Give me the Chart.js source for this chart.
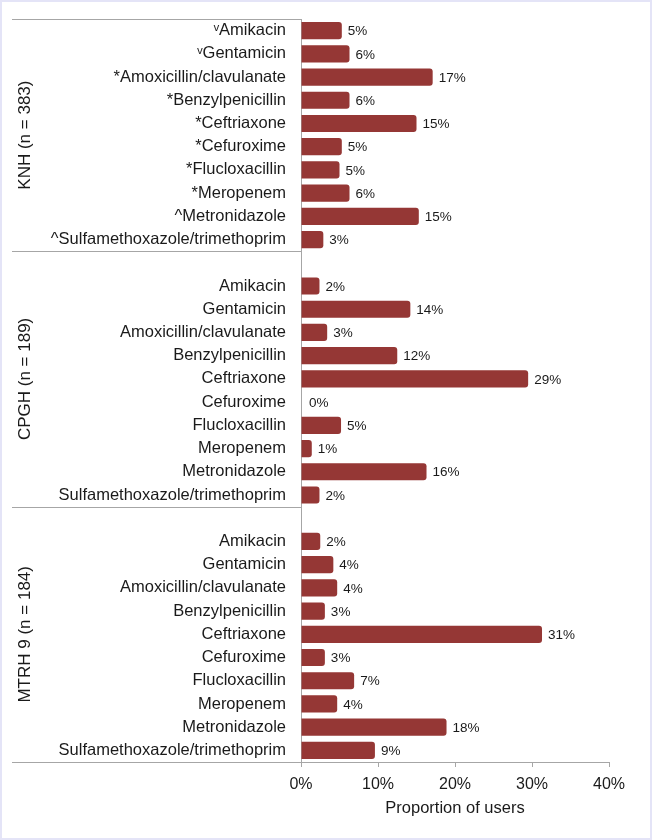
<!DOCTYPE html>
<html>
<head>
<meta charset="utf-8">
<script src="https://cdn.jsdelivr.net/npm/chart.js@4/dist/chart.umd.min.js"></script>
<style>
    html, body { margin: 0; padding: 0; background: #fff; }
    .wrap {
        position: relative;
        width: 652px;
        height: 840px;
        background: #fff;
        box-shadow: inset 0 0 0 2px #e4e4f7;
    }
    canvas { position: absolute; left: 0; top: 0; }
</style>
</head>
<body>
<div class="wrap"><canvas id="usersChart" width="652" height="840"></canvas></div>
<script>
// groups (hospital, n)
const groups = ['KNH (n = 383)', 'CPGH (n = 189)', 'MTRH 9 (n = 184)'];

const drugs = [
    'Amikacin',
    'Gentamicin',
    'Amoxicillin/clavulanate',
    'Benzylpenicillin',
    'Ceftriaxone',
    'Cefuroxime',
    'Flucloxacillin',
    'Meropenem',
    'Metronidazole',
    'Sulfamethoxazole/trimethoprim',
];
// KNH labels carry significance marks
const knhMarks = ['ᵛ', 'ᵛ', '*', '*', '*', '*', '*', '*', '^', '^'];

// bar lengths (% of users)
const knhValues = [5.3, 6.3, 17.1, 6.3, 15.0, 5.3, 5.0, 6.3, 15.3, 2.9];
const cpghValues = [2.4, 14.2, 3.4, 12.5, 29.5, 0, 5.2, 1.4, 16.3, 2.4];
const mtrhValues = [2.5, 4.2, 4.7, 3.1, 31.3, 3.1, 6.9, 4.7, 18.9, 9.6];

// percentages as printed next to the bars
const knhPct = [5, 6, 17, 6, 15, 5, 5, 6, 15, 3];
const cpghPct = [2, 14, 3, 12, 29, 0, 5, 1, 16, 2];
const mtrhPct = [2, 4, 4, 3, 31, 3, 7, 4, 18, 9];

const xTicks = [0, 10, 20, 30, 40];

const FONT = "'Liberation Sans', Arial, Helvetica, sans-serif";
const TEXT = '#1a1a1a';
const LINE = '#a6a6a6';

// one empty slot before the 2nd and 3rd group
const labels = [
    ...drugs.map((d, i) => knhMarks[i] + d),
    '', ...drugs,
    '', ...drugs,
];
const values = [...knhValues, null, ...cpghValues, null, ...mtrhValues];
const printed = [...knhPct, null, ...cpghPct, null, ...mtrhPct];
// slot index where each group starts and ends
const groupRanges = [[0, 9], [10, 20], [21, 31]];

const groupPlugin = {
    id: 'groupPlugin',
    afterDraw(chart) {
        const ctx = chart.ctx;
        const y = chart.scales.y;
        const half = (y.getPixelForValue(1) - y.getPixelForValue(0)) / 2;
        const left = 12;
        const axisX = chart.chartArea.left;

        ctx.save();
        ctx.strokeStyle = LINE;
        ctx.lineWidth = 1;
        const edges = [0, 10, 21];
        edges.forEach(i => {
            const py = Math.round(y.getPixelForValue(i) - half) + 0.5;
            ctx.beginPath();
            ctx.moveTo(left, py);
            ctx.lineTo(axisX, py);
            ctx.stroke();
        });
        const bottom = Math.round(y.getPixelForValue(31) + half) + 0.5;
        ctx.beginPath();
        ctx.moveTo(left, bottom);
        ctx.lineTo(axisX, bottom);
        ctx.stroke();

        // rotated group names
        ctx.fillStyle = TEXT;
        ctx.font = '17px ' + FONT;
        ctx.textAlign = 'center';
        ctx.textBaseline = 'middle';
        groups.forEach((g, k) => {
            const [a, b] = groupRanges[k];
            const mid = (y.getPixelForValue(a) + y.getPixelForValue(b)) / 2;
            ctx.save();
            ctx.translate(25, mid);
            ctx.rotate(-Math.PI / 2);
            ctx.fillText(g, 0, 0);
            ctx.restore();
        });
        ctx.restore();
    },
    afterDatasetsDraw(chart) {
        const ctx = chart.ctx;
        const meta = chart.getDatasetMeta(0);
        ctx.save();
        ctx.fillStyle = TEXT;
        ctx.font = '13.5px ' + FONT;
        ctx.textAlign = 'left';
        ctx.textBaseline = 'middle';
        meta.data.forEach((bar, i) => {
            if (printed[i] === null) return;
            const gap = values[i] === 0 ? 8 : 6;
            ctx.fillText(printed[i] + '%', bar.x + gap, bar.y + 1);
        });
        ctx.restore();
    }
};

const ctxUsers = document.getElementById('usersChart');

window.usersChart = new Chart(ctxUsers, {
    type: 'bar',
    data: {
        labels: labels,
        datasets: [{
            data: values,
            backgroundColor: '#953735',
            borderRadius: 3,
            borderSkipped: 'start',
            categoryPercentage: 1,
            barPercentage: 0.74,
        }]
    },
    options: {
        indexAxis: 'y',
        responsive: false,
        animation: false,
        events: [],
        layout: {
            padding: { left: 0, top: 19, right: 43, bottom: 0 }
        },
        plugins: {
            legend: { display: false },
            tooltip: { enabled: false },
        },
        scales: {
            y: {
                afterFit: (scale) => {
                    scale.width = 301;
                    scale.paddingTop = 0;
                    scale.paddingBottom = 0;
                },
                grid: { display: false },
                border: { display: true, color: LINE, width: 1 },
                ticks: {
                    autoSkip: false,
                    padding: 7,
                    color: TEXT,
                    font: { family: FONT, size: 16.5 },
                }
            },
            x: {
                min: 0,
                max: 40,
                afterFit: (scale) => { scale.height = 78; },
                afterBuildTicks: (scale) => {
                    scale.ticks = xTicks.map(v => ({ value: v }));
                },
                grid: {
                    display: true,
                    drawOnChartArea: false,
                    drawTicks: true,
                    tickLength: 5,
                    color: LINE,
                },
                border: { display: true, color: LINE, width: 1 },
                ticks: {
                    padding: 8,
                    color: TEXT,
                    font: { family: FONT, size: 16 },
                    callback: (v) => v + '%',
                },
                title: {
                    display: true,
                    text: 'Proportion of users',
                    color: TEXT,
                    font: { family: FONT, size: 16.5 },
                    padding: { top: 0, bottom: 22 },
                }
            }
        }
    },
    plugins: [groupPlugin]
});
</script>
</body>
</html>
